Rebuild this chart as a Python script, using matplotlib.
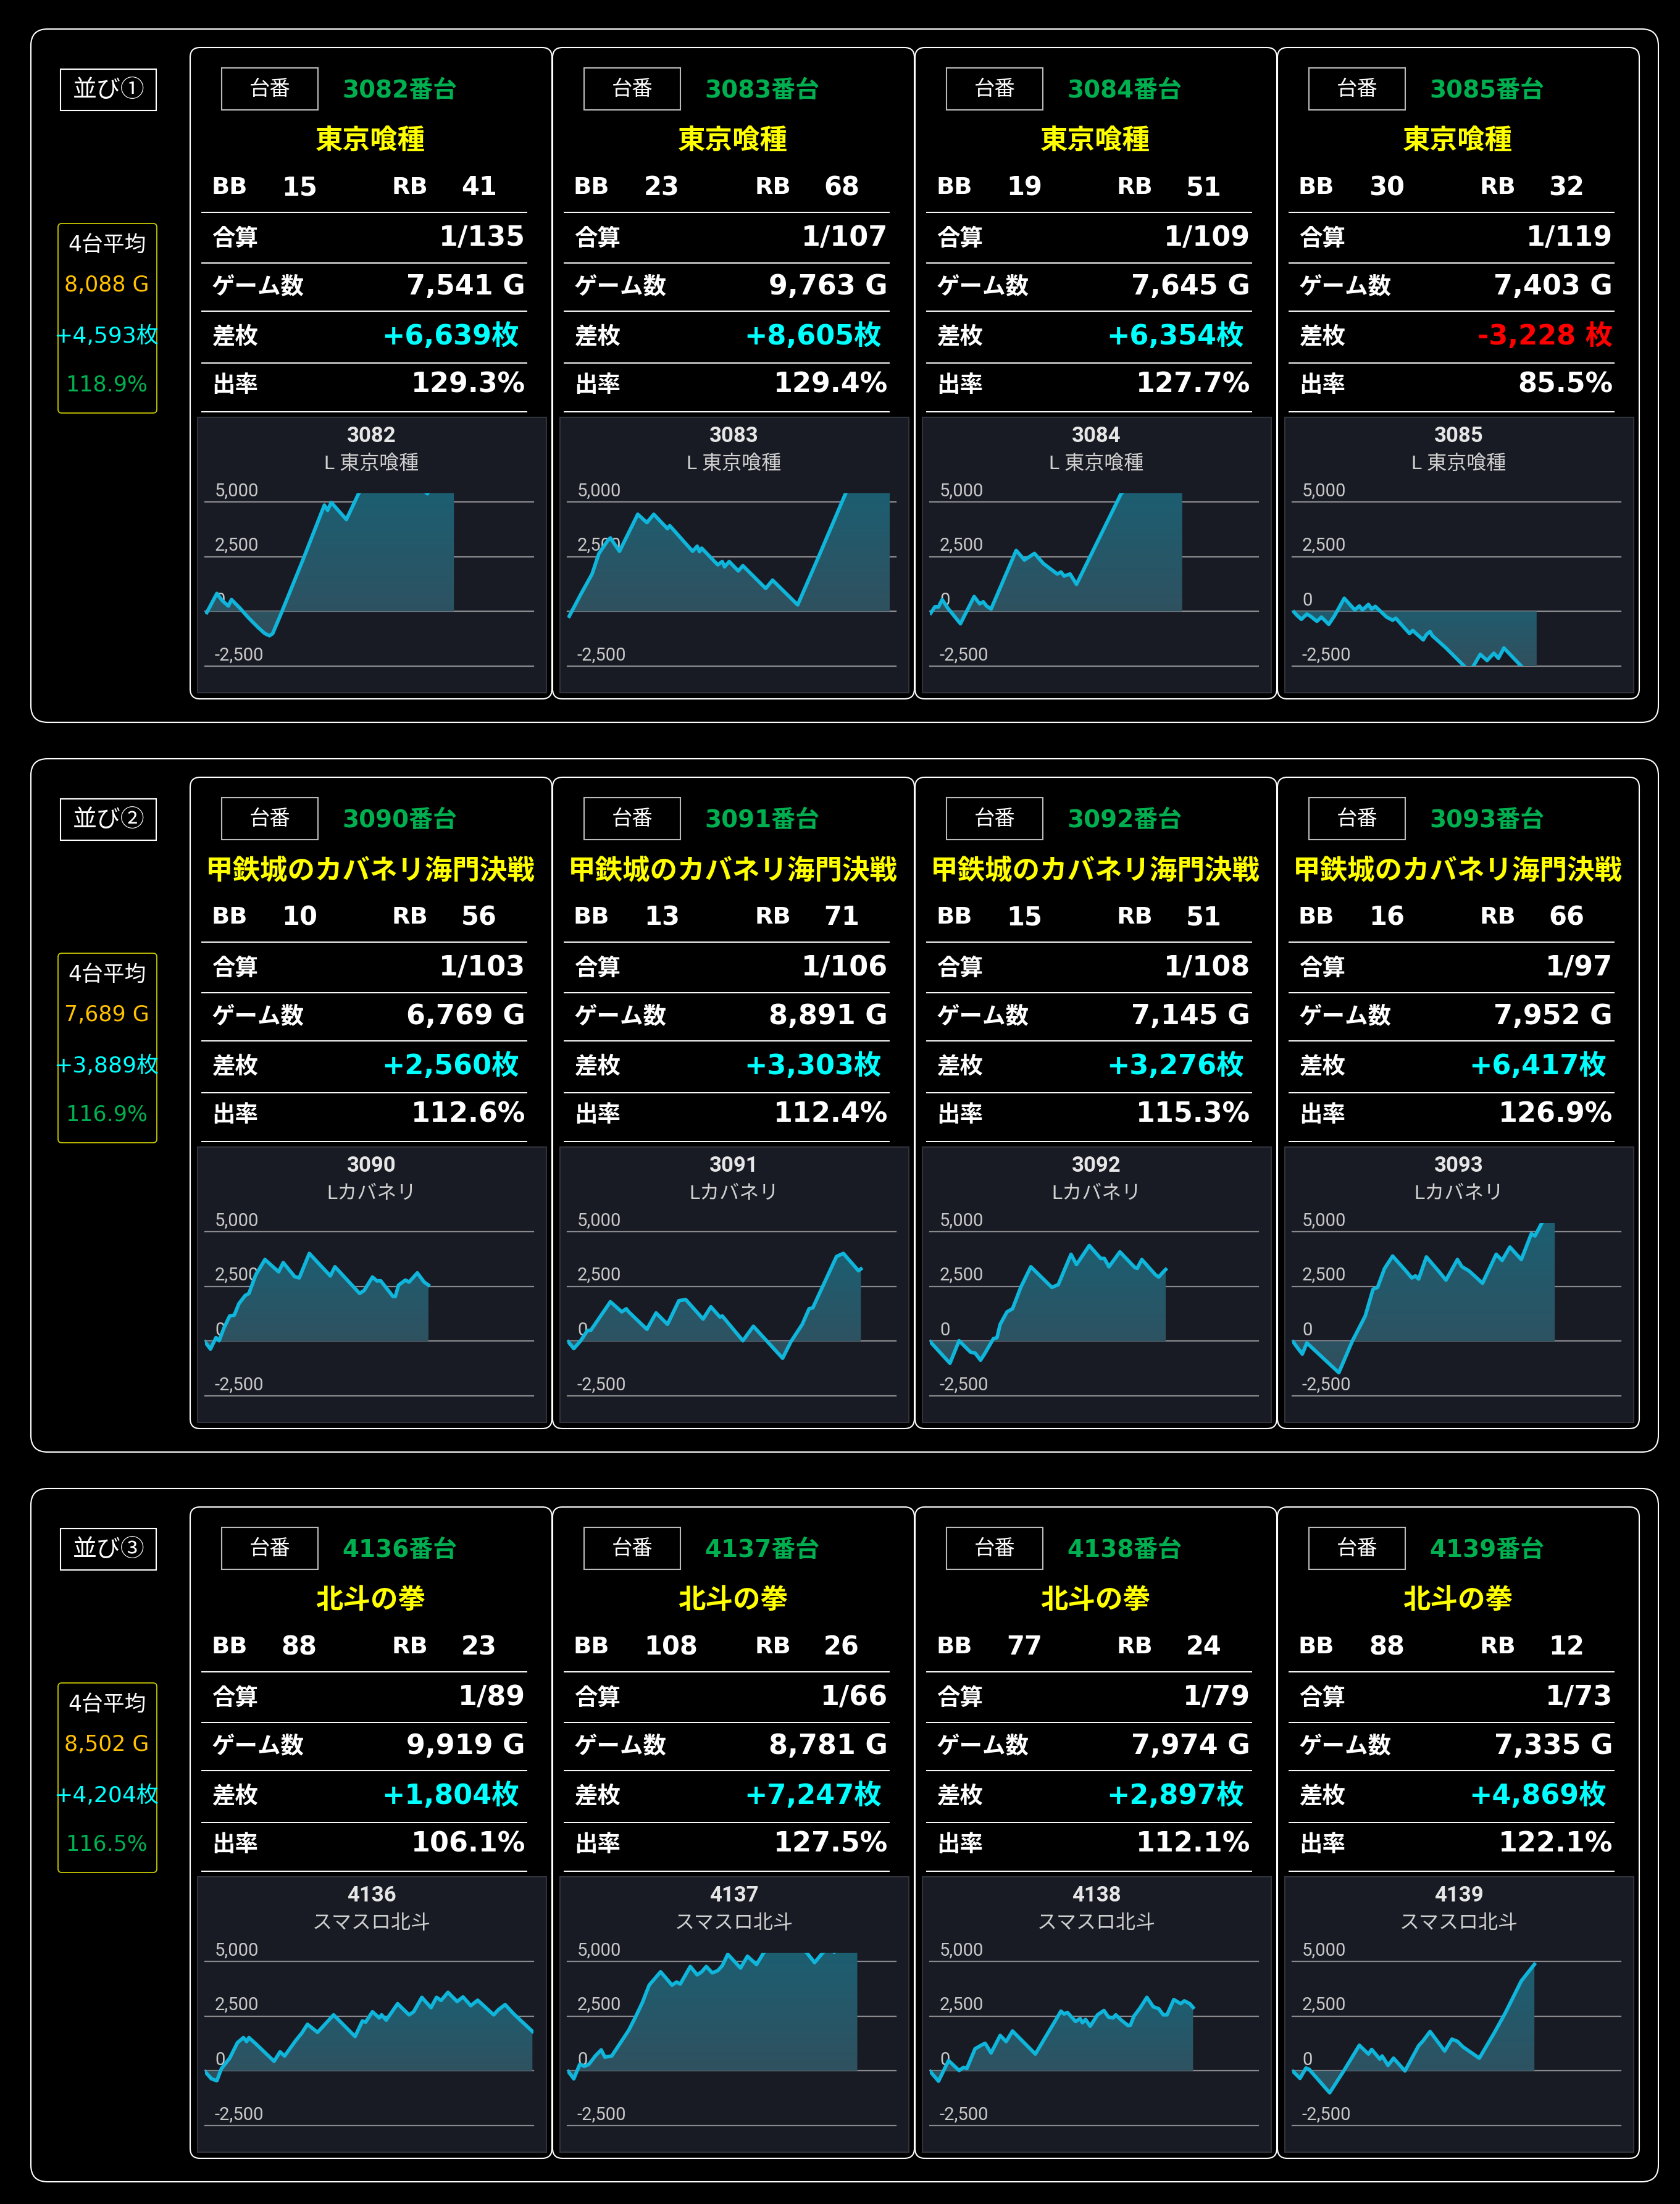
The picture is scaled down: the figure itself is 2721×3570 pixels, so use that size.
import numpy as np
import matplotlib
matplotlib.use('Agg')
import matplotlib.pyplot as plt
from matplotlib.patches import FancyBboxPatch, Rectangle, Polygon
from matplotlib.colors import LinearSegmentedColormap

plt.rcParams['font.family'] = ['Noto Sans CJK JP', 'DejaVu Sans']

# 並び（グループ）ごとの平均
group_labels = ['並び①', '並び②', '並び③']
avg_games = [8088, 7689, 8502]
avg_diff = [4593, 3889, 4204]
avg_rate = [118.9, 116.9, 116.5]

# 台ごとのデータ
machine_nos = [3082, 3083, 3084, 3085, 3090, 3091, 3092, 3093, 4136, 4137, 4138, 4139]
model_names = ['東京喰種'] * 4 + ['甲鉄城のカバネリ海門決戦'] * 4 + ['北斗の拳'] * 4
chart_names = ['L 東京喰種'] * 4 + ['Lカバネリ'] * 4 + ['スマスロ北斗'] * 4
bb_counts = [15, 23, 19, 30, 10, 13, 15, 16, 88, 108, 77, 88]
rb_counts = [41, 68, 51, 32, 56, 71, 51, 66, 23, 26, 24, 12]
combined = [135, 107, 109, 119, 103, 106, 108, 97, 89, 66, 79, 73]
games = [7541, 9763, 7645, 7403, 6769, 8891, 7145, 7952, 9919, 8781, 7974, 7335]
diffs = [6639, 8605, 6354, -3228, 2560, 3303, 3276, 6417, 1804, 7247, 2897, 4869]
rates = [129.3, 129.4, 127.7, 85.5, 112.6, 112.4, 115.3, 126.9, 106.1, 127.5, 112.1, 122.1]

# 差枚グラフ（ゲーム数, 差枚）
g3082 = [55, 360, 527, 707, 804, 1053, 1330, 1608, 1815, 1954, 2051, 2300, 2994, 3617, 3714, 3825, 4283, 4657, 5200, 6000, 6736, 7000, 7541]
d3082 = [-50, 820, 490, 250, 540, 160, -310, -730, -1010, -1110, -1010, -120, 2460, 4860, 4620, 4980, 4200, 5400, 6200, 6400, 5380, 6000, 6639]
g3083 = [55, 401, 747, 955, 1232, 1301, 1578, 2131, 2408, 2616, 3031, 3100, 3792, 3931, 4000, 4069, 4554, 4692, 4761, 4900, 5177, 5315, 6007, 6215, 6975, 7598, 8429, 9000, 9763]
d3083 = [-220, 770, 1710, 2650, 3260, 3360, 2750, 4440, 4060, 4440, 3780, 3920, 2750, 2980, 2730, 2890, 2130, 2280, 2040, 2280, 1850, 2090, 1050, 1430, 300, 2460, 5400, 7200, 8605]
g3084 = [28, 152, 263, 374, 540, 927, 1342, 1509, 1619, 1716, 1855, 2616, 2865, 3169, 3446, 3861, 3972, 4069, 4249, 4443, 5799, 6400, 7000, 7645]
d3084 = [-75, 210, 210, 540, 160, -560, 680, 350, 440, 250, 110, 2790, 2350, 2650, 2180, 1710, 1800, 1620, 1710, 1240, 5400, 6000, 6200, 6354]
g3085 = [55, 138, 276, 442, 553, 746, 884, 1106, 1271, 1575, 1893, 2032, 2128, 2308, 2405, 2515, 2861, 3041, 3137, 3552, 3649, 3967, 4063, 4174, 4243, 4658, 5210, 5350, 5487, 5694, 5901, 6108, 6246, 6412, 6937, 7403]
d3085 = [-30, -170, -360, -120, -220, -450, -260, -590, -220, 600, 70, 250, 70, 320, 110, 230, -260, -400, -310, -1010, -870, -1300, -1060, -920, -1110, -1670, -2500, -2700, -2500, -1960, -2240, -1910, -2140, -1670, -2500, -3228]
g3090 = [0, 166, 333, 430, 568, 748, 887, 1026, 1220, 1331, 1538, 1816, 2231, 2370, 2717, 2855, 3160, 3798, 3936, 4685, 4823, 5073, 5211, 5322, 5696, 5766, 5863, 6071, 6182, 6431, 6639, 6769]
d3090 = [-30, -360, 160, 20, 580, 1150, 1190, 1710, 2090, 2180, 3030, 3730, 3170, 3590, 2950, 2890, 4010, 2980, 3400, 2180, 2320, 2930, 2750, 2760, 2040, 2040, 2560, 2790, 2700, 3120, 2700, 2560]
g3091 = [28, 194, 401, 609, 706, 1301, 1647, 1785, 1855, 2408, 2685, 3031, 3377, 3585, 4110, 4346, 4623, 4692, 5315, 5633, 6519, 6768, 7114, 7321, 7432, 8152, 8359, 8816, 8891]
d3091 = [-30, -340, 20, 490, 490, 1800, 1340, 1480, 1340, 540, 1290, 770, 1850, 1900, 1010, 1570, 1100, 1150, 20, 680, -780, -30, 770, 1480, 1520, 3870, 4010, 3220, 3303]
g3092 = [14, 609, 886, 1232, 1370, 1536, 1675, 1924, 2034, 2131, 2339, 2505, 2754, 3059, 3695, 3889, 4277, 4443, 4830, 5176, 5287, 5425, 5757, 6214, 6283, 6422, 6837, 6934, 7045, 7145]
d3092 = [-30, -1010, 20, -500, -540, -870, -540, 110, 160, 770, 1340, 1480, 2460, 3400, 2460, 2580, 3970, 3500, 4370, 3780, 3780, 3400, 4080, 3360, 3330, 3730, 3030, 2930, 3120, 3276]
g3093 = [28, 138, 304, 442, 1410, 1824, 2211, 2446, 2584, 2792, 3040, 3414, 3621, 3731, 3828, 4063, 4450, 4657, 5003, 5141, 5348, 5763, 6178, 6357, 6592, 6938, 7242, 7352, 7560, 7952]
d3093 = [-30, -260, -590, -80, -1440, 20, 1150, 2370, 2460, 3310, 3890, 3260, 2890, 2980, 2840, 3850, 3170, 2790, 3730, 3400, 3220, 2650, 3970, 3690, 4300, 3730, 4910, 4810, 5400, 6417]
g4136 = [0, 194, 360, 499, 748, 984, 1164, 1261, 1331, 1538, 2093, 2273, 2412, 2744, 2924, 3105, 3410, 3895, 4546, 4768, 4865, 5073, 5281, 5350, 5489, 5835, 6182, 6320, 6570, 6847, 7013, 7152, 7360, 7637, 7817, 8053, 8261, 8746, 8884, 9092, 9342, 9919]
d4136 = [-30, -360, -450, 110, 580, 1290, 1520, 1340, 1520, 1240, 440, 870, 680, 1380, 1710, 2130, 1760, 2560, 1570, 2280, 2230, 2700, 2420, 2560, 2320, 3070, 2560, 2700, 3360, 2890, 3360, 3220, 3590, 3170, 3380, 2980, 3230, 2560, 2790, 3030, 2620, 1804]
g4137 = [28, 194, 374, 512, 650, 844, 1024, 1135, 1342, 1855, 2062, 2270, 2477, 2823, 3169, 3308, 3418, 3723, 3931, 4069, 4207, 4387, 4553, 4692, 4858, 5245, 5453, 5730, 5937, 6214, 6768, 7252, 7487, 7736, 8000, 8083, 8400, 8781]
d4137 = [-30, -360, 300, 210, 300, 680, 960, 630, 680, 1850, 2460, 3120, 3920, 4530, 3920, 4060, 3970, 4770, 4390, 4530, 4770, 4480, 4580, 4810, 5330, 4700, 5240, 4860, 5380, 5800, 6000, 5400, 4950, 5400, 5700, 5420, 6600, 7247]
g4138 = [14, 263, 567, 886, 1024, 1121, 1204, 1370, 1578, 1675, 1855, 2131, 2311, 2505, 3197, 3972, 4069, 4166, 4415, 4553, 4623, 4719, 4858, 5079, 5273, 5411, 5550, 5633, 5799, 6007, 6076, 6186, 6353, 6574, 6768, 6934, 7072, 7183, 7391, 7598, 7709, 7875, 7974]
d4138 = [-30, -470, 470, 20, 160, 110, 410, 1010, 1190, 1260, 820, 1620, 1340, 1820, 770, 2730, 2600, 2670, 2260, 2390, 2200, 2350, 2040, 2560, 2760, 2460, 2420, 2560, 2320, 2070, 2090, 2510, 2840, 3360, 2930, 2840, 2560, 2560, 3260, 3070, 3200, 3070, 2897]
g4139 = [28, 235, 415, 511, 1133, 1548, 2032, 2308, 2405, 2653, 2723, 2902, 3068, 3414, 3828, 3966, 4174, 4616, 4837, 5003, 5169, 5666, 6108, 6454, 6938, 7335]
d4139 = [-30, -340, 130, 70, -1000, -30, 1170, 770, 980, 540, 680, 250, 580, 0, 1150, 1380, 1800, 910, 1450, 1350, 1100, 580, 1710, 2650, 4110, 4869]

series_games = [g3082, g3083, g3084, g3085, g3090, g3091, g3092, g3093, g4136, g4137, g4138, g4139]
series_diffs = [d3082, d3083, d3084, d3085, d3090, d3091, d3092, d3093, d4136, d4137, d4138, d4139]

grid_values = [5000, 2500, 0, -2500]
x_max = 9950
y_min, y_max = -2500, 5400

W, H = 2721, 3570
fig = plt.figure(figsize=(W / 100, H / 100), dpi=100, facecolor='black')
cv = fig.add_axes([0, 0, 1, 1])
cv.set_xlim(0, W)
cv.set_ylim(H, 0)
cv.axis('off')


def px_rect(x, y, w, h):
    # ピクセル座標(左上原点) -> figure座標
    return [x / W, 1 - (y + h) / H, w / W, h / H]


GREEN = '#00b050'
CYAN = '#00ffff'
LATIN = ['DejaVu Sans', 'Noto Sans CJK JP']
ROBOTO = ['Roboto', 'Noto Sans CJK JP', 'DejaVu Sans']
fill_cmap = LinearSegmentedColormap.from_list('fillgrad', ['#31505e', '#1c5e71'])

for g in range(3):
    off = 1182 * g
    cv.add_patch(FancyBboxPatch((50, 47 + off), 2636, 1123, boxstyle='round,pad=0,rounding_size=27',
                                fc='none', ec='white', lw=1.5))
    cv.add_patch(Rectangle((98, 112 + off), 155, 67, fc='none', ec='white', lw=1.5))
    cv.text(176, 146 + off, group_labels[g], color='white', fontsize=28, ha='center', va='center')

    cv.add_patch(FancyBboxPatch((94, 362 + off), 160, 307, boxstyle='round,pad=0,rounding_size=6',
                                fc='none', ec='#c8c800', lw=1.3))
    cv.text(173, 397 + off, '4台平均', color='white', fontsize=25, ha='center', va='center', family=LATIN)
    cv.text(173, 462 + off, f'{avg_games[g]:,} G', color='#ffc000', fontsize=25, ha='center',
            va='center', family=LATIN)
    cv.text(172, 545 + off, f'+{avg_diff[g]:,}枚', color=CYAN, fontsize=26, ha='center',
            va='center', family=LATIN)
    cv.text(173, 623 + off, f'{avg_rate[g]:.1f}%', color=GREEN, fontsize=25, ha='center',
            va='center', family=LATIN)

    for c in range(4):
        i = g * 4 + c
        x0 = 308 + 587 * c
        cv.add_patch(FancyBboxPatch((x0, 77 + off), 586, 1055, boxstyle='round,pad=0,rounding_size=16',
                                    fc='none', ec='white', lw=1.5))
        cv.add_patch(Rectangle((x0 + 51, 110 + off), 156, 68, fc='none', ec='#bbbbbb', lw=1.5))
        cv.text(x0 + 129, 144 + off, '台番', color='white', fontsize=24, ha='center', va='center')
        cv.text(x0 + 339, 147 + off, f'{machine_nos[i]}番台', color=GREEN, fontsize=28,
                fontweight='bold', ha='center', va='center', family=LATIN)
        cv.text(x0 + 292, 228 + off, model_names[i], color='#ffff00', fontsize=32,
                fontweight='bold', ha='center', va='center')

        cv.text(x0 + 34, 304 + off, 'BB', color='white', fontsize=27.5, fontweight='bold',
                va='center', family=LATIN)
        cv.text(x0 + 148, 304 + off, str(bb_counts[i]), color='white', fontsize=30,
                fontweight='bold', va='center', family=LATIN)
        cv.text(x0 + 327, 304 + off, 'RB', color='white', fontsize=27.5, fontweight='bold',
                va='center', family=LATIN)
        cv.text(x0 + 439, 304 + off, str(rb_counts[i]), color='white', fontsize=30,
                fontweight='bold', va='center', family=LATIN)

        for ly in [344, 426, 504, 588, 667]:
            cv.plot([x0 + 19, x0 + 545], [ly + off, ly + off], color='white', lw=1.4)

        row_y = [386, 464, 545, 623]
        row_labels = ['合算', 'ゲーム数', '差枚', '出率']
        for ry, lab in zip(row_y, row_labels):
            cv.text(x0 + 35, ry + off, lab, color='white', fontsize=27, fontweight='bold', va='center')
        cv.text(x0 + 543, row_y[0] + off, f'1/{combined[i]}', color='white', fontsize=32,
                fontweight='bold', ha='right', va='center', family=LATIN)
        cv.text(x0 + 543, row_y[1] + off, f'{games[i]:,} G', color='white', fontsize=32,
                fontweight='bold', ha='right', va='center', family=LATIN)
        if diffs[i] >= 0:
            cv.text(x0 + 533, row_y[2] + off, f'+{diffs[i]:,}枚', color=CYAN, fontsize=32,
                    fontweight='bold', ha='right', va='center', family=LATIN)
        else:
            cv.text(x0 + 543, row_y[2] + off, f'{diffs[i]:,} 枚', color='#ff0000', fontsize=32,
                    fontweight='bold', ha='right', va='center', family=LATIN)
        cv.text(x0 + 543, row_y[3] + off, f'{rates[i]:.1f}%', color='white', fontsize=32,
                fontweight='bold', ha='right', va='center', family=LATIN)

        # グラフ部分
        cv.add_patch(Rectangle((x0 + 12, 676 + off), 565, 446, fc='#181b24', ec='#30333b', lw=1.5))
        cv.text(x0 + 294, 706 + off, str(machine_nos[i]), color='#e6e6e6', fontsize=25,
                fontweight='bold', ha='center', va='center', family=ROBOTO)
        cv.text(x0 + 294, 751 + off, chart_names[i], color='#d0d0d0', fontsize=23,
                ha='center', va='center', family=ROBOTO)

        ax = fig.add_axes(px_rect(x0 + 24, 799 + off, 532, 280))
        ax.set_xlim(0, x_max)
        ax.set_ylim(y_min, y_max)
        ax.axis('off')
        for v in grid_values:
            ax.axhline(v, color='#8a8a8e', lw=1.6, clip_on=False, zorder=1)
            ax.annotate(f'{v:,}', xy=(0.03, v), xycoords=('axes fraction', 'data'),
                        xytext=(0, 7), textcoords='offset points', ha='left', va='baseline',
                        fontsize=21, color='#c8c8c8', family=ROBOTO, zorder=0.5)

        gx = series_games[i]
        dy = series_diffs[i]
        verts = [(gx[0], 0)] + list(zip(gx, dy)) + [(gx[-1], 0)]
        top = max(min(max(dy), y_max), 0)
        bot = min(max(min(dy), y_min), 0)
        grad = np.linspace(1, 0, 256).reshape(-1, 1)
        im = ax.imshow(grad, extent=[0, x_max, bot, top], origin='upper', aspect='auto',
                       cmap=fill_cmap, vmin=0, vmax=1, zorder=2, interpolation='bilinear')
        im.set_clip_path(Polygon(verts, closed=True, transform=ax.transData))
        ax.set_xlim(0, x_max)
        ax.set_ylim(y_min, y_max)
        ax.plot(gx, dy, color='#0fb5da', lw=4.2, zorder=3)

fig.savefig('out.png', dpi=100, facecolor='black')
